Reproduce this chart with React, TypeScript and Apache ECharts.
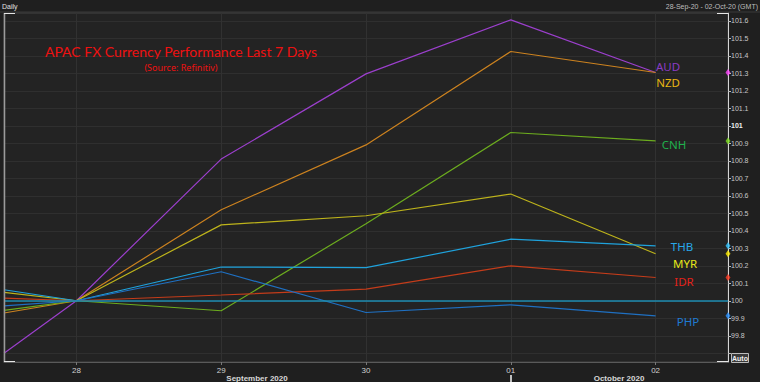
import React, { useEffect, useRef } from "react";
import * as echarts from "echarts";

// ---- data ----
const dayLabels = ["28", "29", "30", "01", "02"];
const dayIndex = [0, 1, 2, 3, 4];
const edgeX = -0.5; // left edge of the visible window (line enters from earlier day)
const seriesNames = ["AUD", "NZD", "CNH", "MYR", "THB", "IDR", "PHP"];
// values where each line enters the window at the left edge
const edgeValues = [99.7, 99.93, 99.945, 100.048, 100.063, 100.015, 99.971];
const audValues = [100, 100.81, 101.297, 101.606, 101.305];
const nzdValues = [100, 100.52, 100.891, 101.425, 101.305];
const cnhValues = [100, 99.943, 100.44, 100.962, 100.914];
const myrValues = [100, 100.434, 100.486, 100.61, 100.269];
const thbValues = [100, 100.193, 100.189, 100.352, 100.314];
const idrValues = [100, 100.033, 100.067, 100.2, 100.133];
const phpValues = [100, 100.166, 99.933, 99.977, 99.914];
const baselineValue = 100;
const yTickLabels = [
  "99.7", "99.8", "99.9", "100", "100.1", "100.2", "100.3", "100.4", "100.5", "100.6",
  "100.7", "100.8", "100.9", "101", "101.1", "101.2", "101.3", "101.4", "101.5", "101.6",
];
const yShownLabels = yTickLabels.slice(1);
const monthLabels = ["September 2020", "October 2020"];
const titleText = "APAC FX Currency Performance Last 7 Days";
const subtitleText = "(Source: Refinitiv)";
const rangeText = "28-Sep-20 - 02-Oct-20 (GMT)";

const allValues = [audValues, nzdValues, cnhValues, myrValues, thbValues, idrValues, phpValues];
const lineColors = ["#9b3fcc", "#cc821f", "#6cac1e", "#bdb31b", "#1fa2dc", "#c43c1a", "#1f70c2"];
const labelColors = ["#8a3cc4", "#e8b612", "#1fb04c", "#e6e61a", "#28a8ea", "#e2221a", "#1f7ad2"];
const markerColors = ["#ff44ff", "#f0c020", "#7ee020", "#ffee00", "#33c4ff", "#ff3a20", "#2a92ff"];
const labelPos: [number, number][] = [
  [668, 66], [668, 82], [674, 144], [685, 263], [682, 246], [684, 281], [688, 321],
];

export default function App() {
  const ref = useRef<HTMLDivElement>(null);
  useEffect(() => {
    if (!ref.current) return;
    const chart = echarts.init(ref.current, null, { renderer: "svg" });
    const lineSeries = seriesNames.map((name, i) => ({
      name,
      type: "line",
      data: [[edgeX, edgeValues[i]], ...dayIndex.map((d, j) => [d, allValues[i][j]])],
      symbol: "none",
      lineStyle: { color: lineColors[i], width: 1.2 },
      z: 3,
      ...(i === 0
        ? {
            markLine: {
              silent: true,
              symbol: "none",
              label: { show: false },
              lineStyle: { color: "#1e8db2", width: 1.5, type: "solid" },
              data: [{ yAxis: baselineValue }],
            },
          }
        : {}),
    }));
    const markerSeries = {
      type: "scatter",
      data: seriesNames
        .map((n, i) => ({
          value: [4.5, allValues[i][4]],
          itemStyle: { color: markerColors[i] },
        }))
        .filter((_, i) => i !== 1),
      symbol: "diamond",
      symbolSize: [5, 7],
      clip: false,
      z: 10,
    };
    const stub = "#e6e6e6";
    const lbl = (t: string, x: number, y: number, c: string, font: string, align = "center") => ({
      type: "text",
      x,
      y,
      style: { text: t, fill: c, font, align, verticalAlign: "middle" },
      z: 20,
    });
    const ln = (x1: number, y1: number, x2: number, y2: number, c: string, w = 1) => ({
      type: "line",
      shape: { x1, y1, x2, y2 },
      style: { stroke: c, lineWidth: w },
      z: 20,
    });
    chart.setOption({
      animation: false,
      backgroundColor: "#1f1f1f",
      grid: {
        left: 4,
        right: 32,
        top: 13,
        bottom: 20,
        show: true,
        backgroundColor: "#232323",
        borderColor: "#444",
        borderWidth: 1,
      },
      xAxis: {
        type: "value",
        min: -0.5,
        max: 4.5,
        axisLine: { show: true, onZero: false, lineStyle: { color: "#5a5a5a" } },
        axisTick: { show: true, customValues: dayIndex, length: 3, lineStyle: { color: "#777" } },
        axisLabel: {
          customValues: dayIndex,
          formatter: (v: number) => dayLabels[Math.round(v)],
          color: "#d0d0d0",
          fontSize: 8,
          margin: 4,
          fontFamily: "Liberation Sans",
        },
        splitLine: { show: true, lineStyle: { color: "#313131" } },
      },
      yAxis: {
        type: "value",
        position: "right",
        min: 99.65,
        max: 101.645,
        axisLine: { show: true, onZero: false, lineStyle: { color: "#d6d6d6" } },
        axisTick: {
          show: true,
          customValues: yTickLabels.map(Number),
          length: 3,
          lineStyle: { color: "#bbb" },
        },
        axisLabel: {
          customValues: yShownLabels.map(Number),
          formatter: (v: number) => {
            const s = String(Math.round(v * 10) / 10);
            return s === "101" ? "{b|101}" : s;
          },
          color: "#c8c8c8",
          fontSize: 7,
          margin: 3,
          fontFamily: "Liberation Sans",
          rich: { b: { fontWeight: "bold", color: "#f0f0f0", fontSize: 7, fontFamily: "Liberation Sans" } },
        },
        splitLine: { show: true, lineStyle: { color: "#2f2f2f" } },
      },
      series: [...lineSeries, markerSeries],
      graphic: [
        ln(0, 12, 760, 12, "#3a3a3a"),
        lbl("Daily", 2, 6, "#e0e0e0", "normal 7px 'Liberation Sans'", "left"),
        lbl(rangeText, 758, 6, "#bdbdbd", "normal 7px 'Liberation Sans'", "right"),
        ln(4.5, 13, 4.5, 362, "#9a9a9a", 1.5),
        ln(4, 13.5, 15, 13.5, stub),
        ln(4, 361.5, 15, 361.5, stub),
        ln(717, 13.5, 728, 13.5, stub),
        ln(717, 361.5, 728, 361.5, stub),
        ln(511, 375, 511, 382, "#bfbfbf", 2),
        lbl(monthLabels[0], 257, 378, "#d8d8d8", "bold 8px 'Liberation Sans'"),
        lbl(monthLabels[1], 619, 378, "#d8d8d8", "bold 8px 'Liberation Sans'"),
        {
          type: "rect",
          shape: { x: 731.5, y: 353.5, width: 17, height: 9 },
          style: { fill: "#3a3a3a", stroke: "#bbb", lineWidth: 1 },
          z: 20,
        },
        lbl("Auto", 740, 358, "#f0f0f0", "bold 7px 'Liberation Sans'"),
        lbl(titleText, 181, 51, "#ee1111", "normal 14px Lato"),
        lbl(subtitleText, 181, 67, "#ee1111", "normal 9px 'Noto Sans'"),
        ...seriesNames.map((n, i) =>
          lbl(n, labelPos[i][0], labelPos[i][1], labelColors[i], "normal 11.5px 'Noto Sans'")
        ),
      ],
    });
    return () => chart.dispose();
  }, []);
  return <div ref={ref} style={{ position: "fixed", left: 0, top: 0, width: 760, height: 382 }} />;
}
